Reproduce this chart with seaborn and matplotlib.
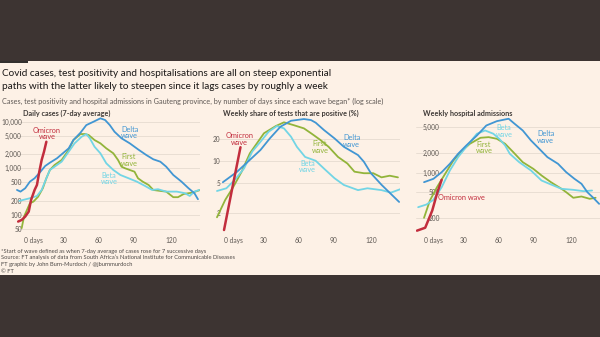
import matplotlib
matplotlib.use("Agg")
import matplotlib.pyplot as plt
import matplotlib.ticker as mticker
from matplotlib.patches import Rectangle
import pandas as pd
import seaborn as sns

# ---------------- data ----------------
# Daily cases (7-day average), by days since each wave began
cases_delta_days = [-6, -3, 1, 5, 9, 14, 18, 22, 28, 33, 38, 42, 48, 53, 59, 65, 69, 73, 77, 83, 90, 97, 104, 110, 116, 121, 127, 134, 140, 145, 148]
cases_delta = [343, 316, 373, 517, 611, 846, 1120, 1318, 1637, 2094, 2680, 4036, 5786, 8440, 9950, 11800, 10850, 8440, 6080, 4390, 3430, 2550, 1930, 1560, 1385, 1082, 719, 517, 373, 292, 217]
cases_first_days = [-2, 0, 5, 8, 12, 16, 19, 22, 26, 32, 38, 42, 48, 52, 55, 60, 65, 70, 76, 80, 83, 86, 90, 94, 97, 101, 106, 110, 116, 121, 127, 131, 136, 143, 150]
cases_first = [52, 92, 178, 193, 246, 373, 611, 920, 1177, 1505, 2465, 4036, 5430, 5430, 5170, 4036, 3430, 2680, 2094, 1505, 1082, 1000, 920, 846, 611, 517, 439, 343, 327, 316, 240, 240, 282, 300, 343]
cases_beta_days = [-4, 5, 11, 15, 19, 22, 26, 32, 38, 43, 49, 53, 56, 60, 65, 70, 76, 82, 89, 96, 103, 109, 114, 121, 130, 137, 141, 145, 149]
cases_beta = [200, 228, 255, 343, 611, 920, 1082, 1385, 2270, 3430, 4750, 5430, 4390, 2900, 2094, 1280, 920, 719, 611, 517, 418, 343, 356, 316, 316, 292, 255, 316, 343]
cases_omicron_days = [-5, -2, 1, 4, 6, 9, 11, 13, 15, 17, 19]
cases_omicron = [72, 78, 92, 118, 210, 343, 439, 846, 1505, 2270, 3710]

# Weekly share of tests that are positive (%)
pos_delta_days = [-1, 11, 22, 31, 39, 48, 57, 68, 74, 78, 85, 94, 102, 114, 119, 125, 134, 142, 149]
pos_delta = [5.2, 7.2, 10.5, 14.3, 20.6, 29.7, 35.8, 37.8, 36.6, 33.7, 26.8, 20.6, 15.8, 12.2, 9.9, 6.9, 4.8, 3.6, 2.8]
pos_first_days = [-6, 1, 8, 15, 22, 34, 44, 51, 59, 68, 75, 82, 89, 97, 105, 111, 119, 127, 134, 141, 148]
pos_first = [1.73, 2.98, 4.52, 7.24, 12.9, 24.2, 30.3, 34.1, 31.3, 28.2, 23.6, 19.6, 15.8, 11.5, 9.35, 7.24, 6.9, 6.9, 6.06, 6.38, 6.06]
pos_beta_days = [-6, 2, 9, 17, 24, 31, 38, 45, 51, 57, 62, 69, 78, 85, 94, 102, 114, 122, 134, 142, 150]
pos_beta = [3.95, 4.3, 5.57, 8.0, 13.6, 18.5, 25.4, 30.3, 28.2, 21.7, 15.8, 11.5, 10.2, 8.0, 5.9, 4.77, 4.06, 4.3, 4.06, 3.75, 4.18]
pos_omicron_days = [0, 7, 14]
pos_omicron = [1.16, 4.3, 15.6]

# Weekly hospital admissions
hosp_delta_days = [0, 8, 15, 22, 29, 36, 45, 53, 62, 72, 77, 84, 91, 98, 105, 114, 121, 128, 134, 139, 144, 149]
hosp_delta = [717, 808, 1021, 1375, 1960, 2630, 3740, 5330, 6220, 6770, 5680, 4470, 3140, 2340, 1740, 1375, 1021, 808, 677, 503, 413, 333]
hosp_first_days = [0, 5, 11, 18, 25, 32, 39, 48, 55, 62, 69, 76, 84, 93, 100, 108, 117, 121, 127, 134, 141, 146]
hosp_first = [203, 375, 600, 965, 1546, 2150, 2790, 3450, 3530, 3330, 2790, 2070, 1455, 1150, 909, 717, 567, 503, 413, 432, 398, 413]
hosp_beta_days = [-5, 2, 8, 15, 22, 29, 38, 45, 52, 59, 64, 69, 73, 81, 91, 100, 108, 117, 127, 136, 143]
hosp_beta = [296, 325, 384, 600, 1085, 1740, 2790, 3980, 4470, 3980, 3330, 2630, 1960, 1455, 1085, 761, 661, 567, 547, 521, 534]
hosp_omicron_days = [-6, 1, 7, 11, 15]
hosp_omicron = [129, 143, 263, 476, 780]

waves = ["First", "Beta", "Delta", "Omicron"]
wave_colors = {"First": "#92b43a", "Beta": "#72d5e5", "Delta": "#4196d3", "Omicron": "#c22d3d"}

panel_titles = ["Daily cases (7-day average)",
                "Weekly share of tests that are positive (%)",
                "Weekly hospital admissions"]
x_ticks = [0, 30, 60, 90, 120]
x_tick_labels = ["0 days", "30", "60", "90", "120"]
cases_ticks = [50, 100, 200, 500, 1000, 2000, 5000, 10000]
pos_ticks = [2, 5, 10, 20]
hosp_ticks = [200, 500, 1000, 2000, 5000]

title_lines = ["Covid cases, test positivity and hospitalisations are all on steep exponential",
               "paths with the latter likely to steepen since it lags cases by roughly a week"]
subtitle = ("Cases, test positivity and hospital admissions in Gauteng province, "
            "by number of days since each wave began* (log scale)")
footnotes = ["*Start of wave defined as when 7-day average of cases rose for 7 successive days",
             "Source: FT analysis of data from South Africa\u2019s National Institute for Communicable Diseases",
             "FT graphic by John Burn-Murdoch / @jburnmurdoch",
             "\u00a9 FT"]


def long_frame(series):
    rows = []
    for wave, days, vals in series:
        for d, v in zip(days, vals):
            rows.append({"day": d, "value": v, "wave": wave})
    return pd.DataFrame(rows)


panels = [
    dict(df=long_frame([("First", cases_first_days, cases_first),
                        ("Beta", cases_beta_days, cases_beta),
                        ("Delta", cases_delta_days, cases_delta),
                        ("Omicron", cases_omicron_days, cases_omicron)]),
         ylim=(43, 12600), yticks=cases_ticks, label_pad=-6.0,
         labels=[("Omicron\nwave", 19.6, 5560, "Omicron", "center"),
                 ("Delta\nwave", 82.6, 5840, "Delta", "left"),
                 ("First\nwave", 82.6, 1505, "First", "left"),
                 ("Beta\nwave", 72.3, 600, "Beta", "center")]),
    dict(df=long_frame([("First", pos_first_days, pos_first),
                        ("Beta", pos_beta_days, pos_beta),
                        ("Delta", pos_delta_days, pos_delta),
                        ("Omicron", pos_omicron_days, pos_omicron)]),
         ylim=(1.09, 40.3), yticks=pos_ticks, label_pad=-4.7,
         labels=[("Omicron\nwave", 13.4, 20.2, "Omicron", "center"),
                 ("Delta\nwave", 101.3, 19.0, "Delta", "left"),
                 ("First\nwave", 74.9, 15.6, "First", "left"),
                 ("Beta\nwave", 71.0, 8.55, "Beta", "center")]),
    dict(df=long_frame([("First", hosp_first_days, hosp_first),
                        ("Beta", hosp_beta_days, hosp_beta),
                        ("Delta", hosp_delta_days, hosp_delta),
                        ("Omicron", hosp_omicron_days, hosp_omicron)]),
         ylim=(123, 7200), yticks=hosp_ticks, label_pad=-24.0,
         labels=[("Omicron wave", 12.2, 412, "Omicron", "left"),
                 ("Beta\nwave", 68.0, 4365, "Beta", "center"),
                 ("First\nwave", 51.0, 2450, "First", "center"),
                 ("Delta\nwave", 96.2, 3530, "Delta", "left")]),
]

# ---------------- style ----------------
sns.set_theme(style="white")
plt.rcParams["font.family"] = ["Lato", "DejaVu Sans"]

W, H = 600, 337
BG_DARK = "#3d3432"
CREAM = "#fdf1e6"
GRID = "#e6dbd0"
TICK_TXT = "#5f5954"

fig = plt.figure(figsize=(W / 100, H / 100), dpi=100, facecolor=BG_DARK)


def fx(px):
    return px / W


def fy(py):
    return 1 - py / H


# paper-coloured card with the small FT rule at its top-left
fig.patches.append(Rectangle((0, fy(275)), 1, fy(61) - fy(275), transform=fig.transFigure,
                             facecolor=CREAM, edgecolor="none", zorder=-2))
fig.patches.append(Rectangle((0, fy(63)), fx(28), fy(61) - fy(63), transform=fig.transFigure,
                             facecolor="#33302e", edgecolor="none", zorder=-1))

fig.text(fx(2), fy(74), title_lines[0], fontsize=7.2, color="#1a1716", va="center", ha="left")
fig.text(fx(2), fy(86.5), title_lines[1], fontsize=7.2, color="#1a1716", va="center", ha="left")
fig.text(fx(2), fy(101.5), subtitle, fontsize=5.25, color="#5f5955", va="center", ha="left")
for i, line in enumerate(footnotes):
    fig.text(fx(1), fy(251 + 6.7 * i), line, fontsize=4.15, color="#4f4a47", va="center", ha="left")

top_px, bottom_px = 117, 232
for i, p in enumerate(panels):
    left_px = 15.8 + 200 * i
    ax = fig.add_axes([fx(left_px), fy(bottom_px), 184.5 / W, (bottom_px - top_px) / H])
    ax.set_facecolor("none")
    ax.set_yscale("log")
    ax.set_xlim(-7, 150)
    ax.set_ylim(*p["ylim"])

    for wave in waves:
        sub = p["df"][p["df"]["wave"] == wave]
        sns.lineplot(data=sub, x="day", y="value", color=wave_colors[wave], estimator=None,
                     sort=False, linewidth=1.8 if wave == "Omicron" else 1.3, ax=ax,
                     legend=False, zorder=4 if wave == "Omicron" else 3)

    ax.set_yticks(p["yticks"])
    ax.yaxis.set_major_formatter(mticker.FuncFormatter(lambda v, _: f"{v:,.0f}"))
    ax.yaxis.set_minor_locator(mticker.NullLocator())
    ax.set_xticks(x_ticks)
    ax.set_xticklabels(x_tick_labels, ha="left")
    ax.tick_params(axis="y", length=0, pad=p["label_pad"] * 0.72, labelsize=4.7, labelcolor=TICK_TXT)
    ax.tick_params(axis="x", length=2.5, width=0.6, color="#b5aca4", pad=0.8,
                   labelsize=4.8, labelcolor=TICK_TXT, direction="out")
    ax.grid(axis="y", color=GRID, linewidth=0.6, zorder=0)
    ax.set_axisbelow(True)
    for s in ax.spines.values():
        s.set_visible(False)
    ax.set_xlabel("")
    ax.set_ylabel("")

    for text, d, v, wave, ha in p["labels"]:
        ax.text(d, v, text, color=wave_colors[wave], fontsize=5.3, ha=ha, va="center",
                linespacing=0.95, zorder=5)

    fig.text(fx(left_px + 7.5), fy(113.5), panel_titles[i], fontsize=5.2, color="#3f3a37",
             va="center", ha="left", fontweight="bold")

fig.savefig("out.png", dpi=100, facecolor=BG_DARK)
